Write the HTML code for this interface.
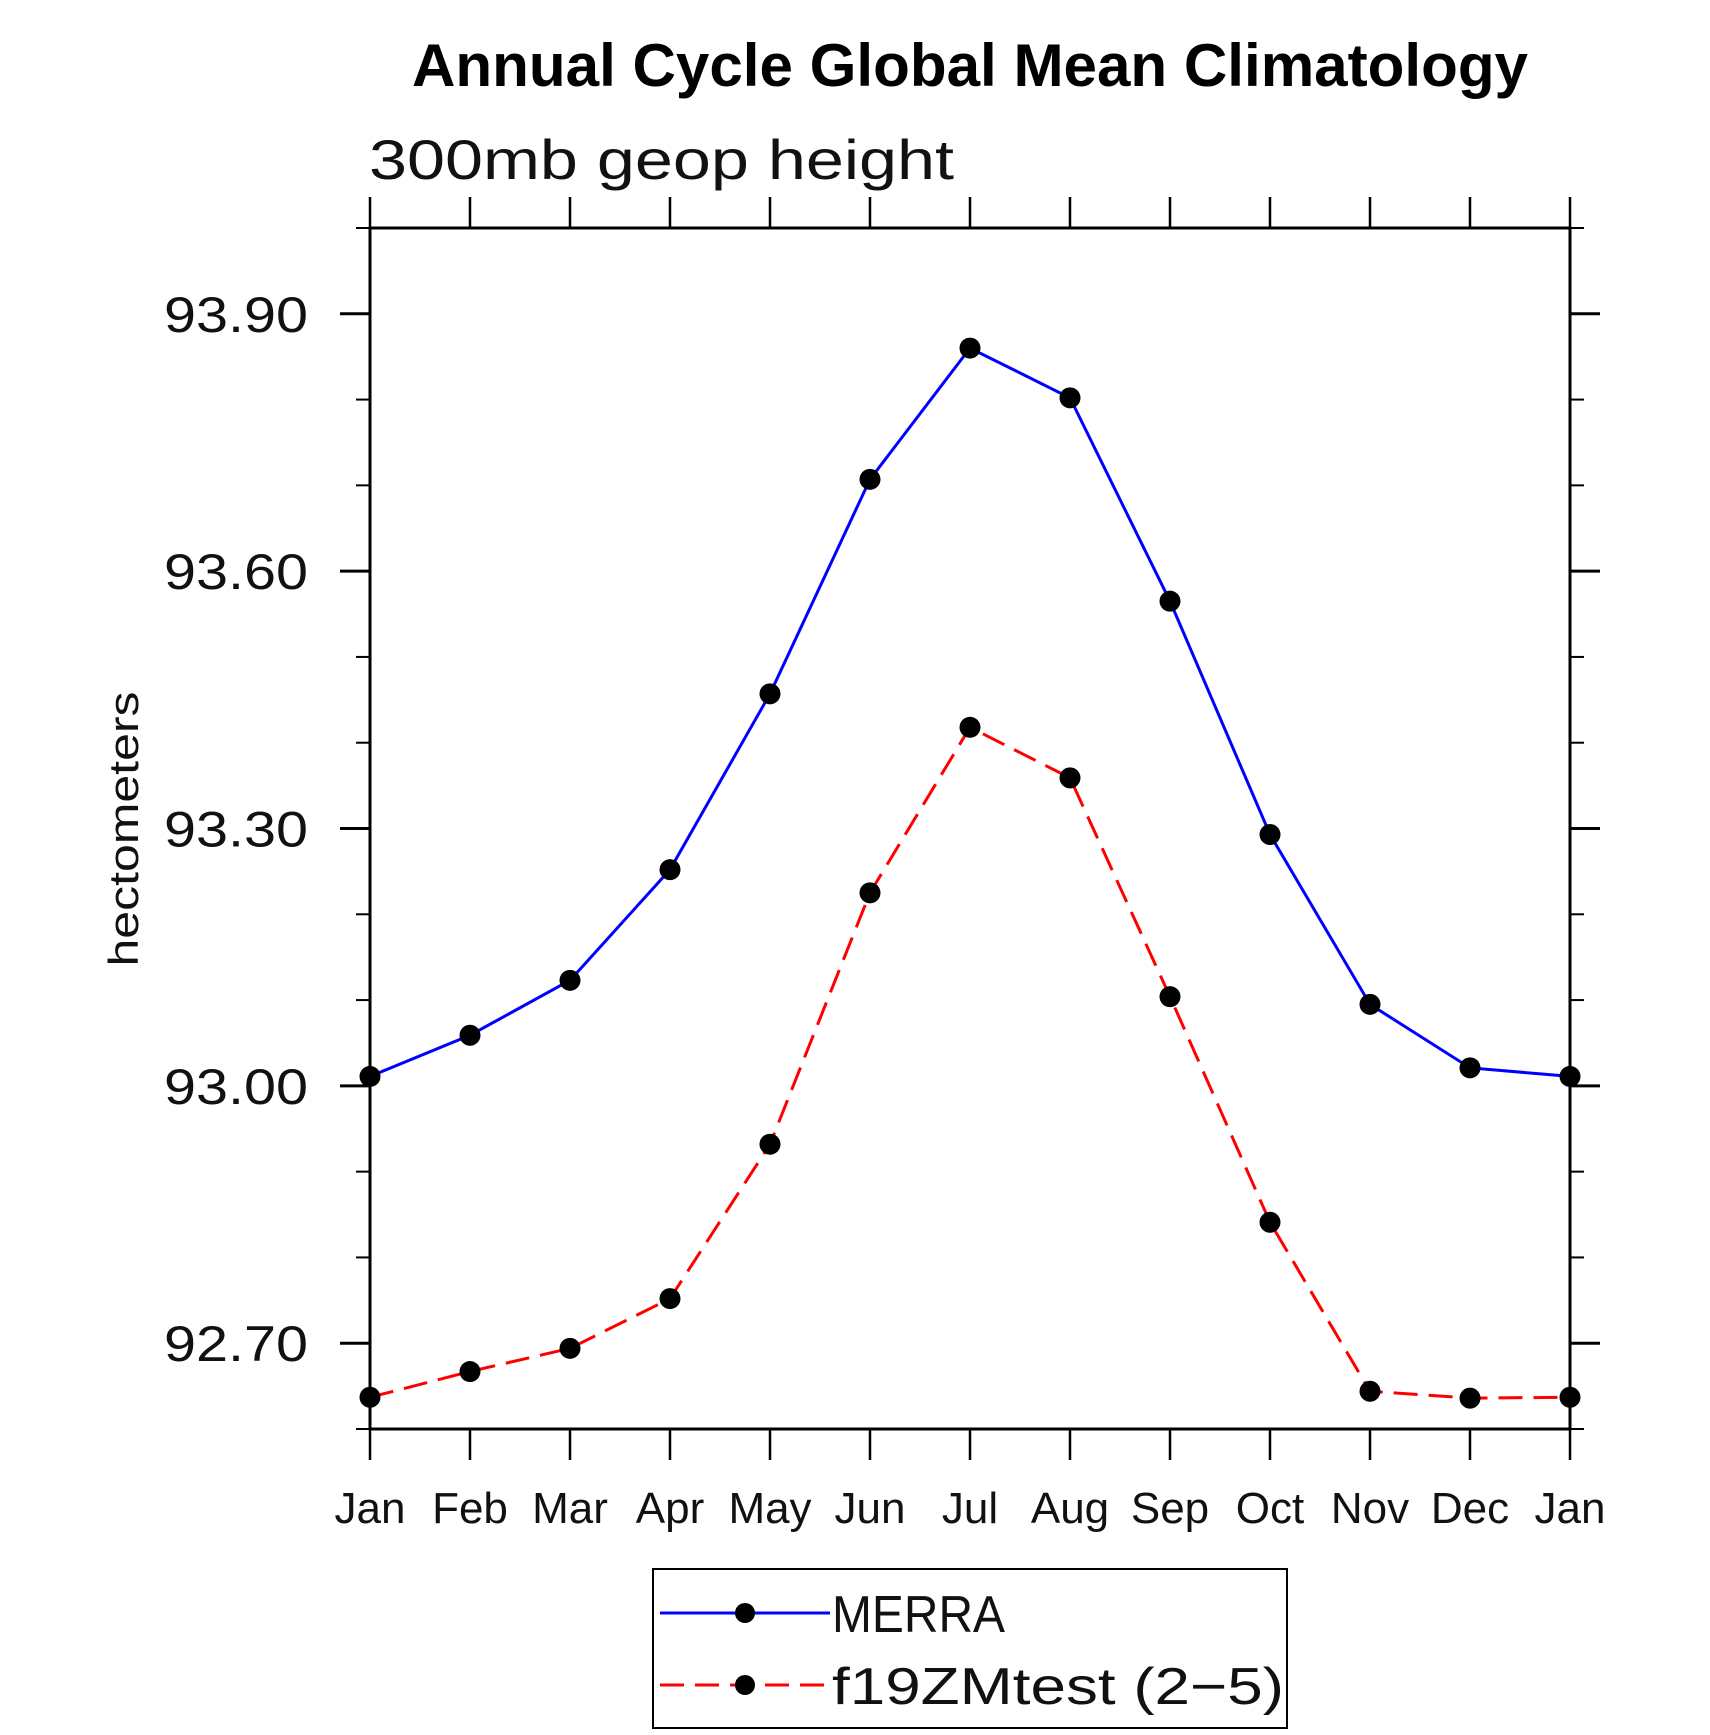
<!DOCTYPE html>
<html><head><meta charset="utf-8"><style>
html,body{margin:0;padding:0;background:#fff;}
svg{display:block;}
text{font-family:"Liberation Sans",sans-serif;}
</style></head><body>
<svg id="chart" width="1710" height="1735" viewBox="0 0 1710 1735" xmlns="http://www.w3.org/2000/svg">
<text x="970" y="86" text-anchor="middle" font-size="60" font-weight="bold" textLength="1116" lengthAdjust="spacingAndGlyphs">Annual Cycle Global Mean Climatology</text>
<text x="369" y="179" font-size="56" fill="#111" textLength="585" lengthAdjust="spacingAndGlyphs">300mb  geop  height</text>
<text transform="translate(138,829) rotate(-90)" text-anchor="middle" font-size="42" fill="#111" textLength="275" lengthAdjust="spacingAndGlyphs">hectometers</text>
<g id="axes"></g>
<g id="series"></g>
<g>
<rect x="653" y="1569" width="634" height="159" fill="none" stroke="#000" stroke-width="2"/>
<g>
<line x1="660" y1="1613" x2="830" y2="1613" stroke="#0000ff" stroke-width="3"/>
<circle cx="745" cy="1613" r="10" fill="#000"/>
<text x="832" y="1632" font-size="52" fill="#111" textLength="173" lengthAdjust="spacingAndGlyphs">MERRA</text>
</g>
<g>
<line x1="660" y1="1685" x2="830" y2="1685" stroke="#ff0000" stroke-width="3" stroke-dasharray="24 11"/>
<circle cx="745" cy="1685" r="10" fill="#000"/>
<text x="832" y="1704" font-size="52" fill="#111" textLength="452" lengthAdjust="spacingAndGlyphs">f19ZMtest (2−5)</text>
</g>
</g>
</svg>
<script>
const months = ["Jan","Feb","Mar","Apr","May","Jun","Jul","Aug","Sep","Oct","Nov","Dec","Jan"];
const merra = [93.011,93.059,93.123,93.252,93.457,93.707,93.860,93.802,93.565,93.293,93.095,93.021,93.011];
const f19 = [92.637,92.667,92.694,92.752,92.932,93.225,93.418,93.359,93.104,92.841,92.644,92.636,92.637];
const yTickLabels = ["92.70","93.00","93.30","93.60","93.90"];
const yMin = 92.6, yMax = 94.0;

const L=370,R=1570,T=228,B=1429;
const NS="http://www.w3.org/2000/svg";
function xs(i){return L+(R-L)*i/(months.length-1);}
function ys(v){return B-(B-T)*(v-yMin)/(yMax-yMin);}
function mk(tag,attrs,parent){const e=document.createElementNS(NS,tag);for(const k in attrs)e.setAttribute(k,attrs[k]);parent.appendChild(e);return e;}
const ax=document.getElementById('axes');
const frame=mk('rect',{x:L,y:T,width:R-L,height:B-T,fill:'none',stroke:'#000','stroke-width':3},ax);


months.forEach((m,i)=>{
  const x=xs(i);
  const t1=mk('line',{x1:x,y1:B,x2:x,y2:B+31,stroke:'#000','stroke-width':2.5},ax);
  
  
  const t2=mk('line',{x1:x,y1:T,x2:x,y2:T-31,stroke:'#000','stroke-width':2.5},ax);
  
  
  const lb=mk('text',{x:x,y:1523,'text-anchor':'middle','font-size':44,fill:'#111'},ax);
  lb.textContent=m;
  
  
});
for(let k=0;k<=14;k++){
  const v=yMin+k*0.1;const y=ys(v);
  const major=(k%3===1);
  const len=major?30:14;
  const a=mk('line',{x1:L-len,y1:y,x2:L,y2:y,stroke:'#000','stroke-width':major?3:2},ax);
  
  
  const b=mk('line',{x1:R,y1:y,x2:R+len,y2:y,stroke:'#000','stroke-width':major?3:2},ax);
  
  
}
yTickLabels.forEach(s=>{
  const y=ys(parseFloat(s));
  const t=mk('text',{x:308,y:y+18,'text-anchor':'end','font-size':50,fill:'#111',textLength:144,lengthAdjust:'spacingAndGlyphs'},ax);
  t.textContent=s;
  
  
});
const sg=document.getElementById('series');
function draw(vals,color,dash,name){
  const pts=vals.map((v,i)=>xs(i)+','+ys(v)).join(' ');
  const pl=mk('polyline',{points:pts,fill:'none',stroke:color,'stroke-width':3,'stroke-dasharray':dash},sg);
  
  
  vals.forEach((v,i)=>{
    const c=mk('circle',{cx:xs(i),cy:ys(v),r:10.5,fill:'#000'},sg);
    
    
  });
}
draw(merra,'#0000ff','none','merra');
draw(f19,'#ff0000','24 11','f19zmtest');
</script>
</body></html>
